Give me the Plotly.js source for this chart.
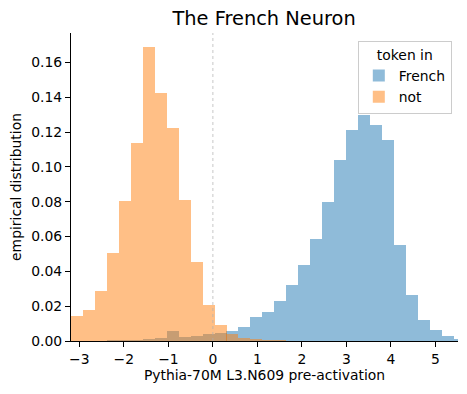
<!DOCTYPE html>
<html>
<head>
<meta charset="utf-8">
<script src="https://cdn.plot.ly/plotly-3.0.1.min.js"></script>
<style>html,body{margin:0;padding:0;background:#fff;}#chart{width:467px;height:394px;}</style>
</head>
<body>
<div id="chart"></div>
<script>
// Bin centers (pre-activation value), shared by both histograms
const binCenters = [-3.053, -2.784, -2.515, -2.247, -1.978, -1.709, -1.441, -1.172, -0.903, -0.635,
  -0.366, -0.097, 0.172, 0.440, 0.709, 0.978, 1.247, 1.515, 1.784, 2.053,
  2.321, 2.590, 2.859, 3.127, 3.396, 3.665, 3.934, 4.202, 4.471, 4.740,
  5.008, 5.277, 5.546];
const binWidth = 0.2687;

// token in French (blue)
const frenchValues = [0, 0, 0, 0.0006, 0.0006, 0.0006, 0.0012, 0.0015, 0.0059, 0.0023,
  0.0029, 0.0040, 0.0048, 0.0059, 0.0082, 0.0138, 0.0169, 0.0230, 0.0322, 0.0437,
  0.0586, 0.0799, 0.1040, 0.1213, 0.1299, 0.1241, 0.1155, 0.0552, 0.0264, 0.0121,
  0.0063, 0.0029, 0.0013];

// token not in French (orange)
const notValues = [0.0144, 0.0178, 0.0287, 0.0506, 0.0805, 0.1136, 0.1690, 0.1427, 0.1224, 0.0810,
  0.0454, 0.0207, 0.0092, 0.0040, 0.0015, 0.0011, 0.0005, 0.0004, 0, 0,
  0, 0, 0, 0, 0, 0, 0, 0, 0, 0,
  0, 0, 0];

const seriesNames = ["French", "not"];
const xTicks = [-3, -2, -1, 0, 1, 2, 3, 4, 5];
const yTicks = [0, 0.02, 0.04, 0.06, 0.08, 0.10, 0.12, 0.14, 0.16];

const font = "DejaVu Sans, sans-serif";

const traces = [
  {type: "bar", x: binCenters, y: frenchValues, width: binWidth, name: seriesNames[0],
   marker: {color: "rgba(31,119,180,0.5)", line: {width: 0}}},
  {type: "bar", x: binCenters, y: notValues, width: binWidth, name: seriesNames[1],
   marker: {color: "rgba(255,127,14,0.5)", line: {width: 0}}}
];

const layout = {
  width: 467, height: 394,
  margin: {l: 71, r: 9, t: 33, b: 53, pad: 0},
  paper_bgcolor: "#fff", plot_bgcolor: "#fff",
  barmode: "overlay", bargap: 0,
  font: {family: font, size: 13.9, color: "#000"},
  title: {text: "The French Neuron", font: {family: font, size: 19.4, color: "#000"},
          x: 0.5655, xanchor: "center", y: 0.953, yanchor: "middle"},
  xaxis: {range: [-3.187, 5.506], tickvals: xTicks, ticks: "outside", ticklen: 5, tickwidth: 1,
          tickcolor: "#000", showline: true, linecolor: "#000", linewidth: 1, showgrid: false,
          zeroline: false, tickfont: {size: 13.9},
          title: {text: "Pythia-70M L3.N609 pre-activation", font: {size: 13.9}, standoff: 4}},
  yaxis: {range: [0, 0.177], tickvals: yTicks, tickformat: ".2f", ticks: "outside", ticklen: 5,
          tickwidth: 1, tickcolor: "#000", showline: true, linecolor: "#000", linewidth: 1,
          showgrid: false, zeroline: false, tickfont: {size: 13.9},
          title: {text: "empirical distribution", font: {size: 13.9}, standoff: 6}},
  legend: {x: 0.984, xanchor: "right", y: 0.974, yanchor: "top", bgcolor: "rgba(255,255,255,0.8)",
           bordercolor: "#cccccc", borderwidth: 1, font: {size: 13.9},
           title: {text: "token in", side: "top center", font: {size: 13.9}}},
  shapes: [{type: "line", xref: "x", yref: "paper", x0: 0, x1: 0, y0: 0, y1: 1,
            line: {color: "#b0b0b0", width: 0.7, dash: "dot"}, layer: "above"}]
};

Plotly.newPlot("chart", traces, layout, {displayModeBar: false, staticPlot: true});
</script>
</body>
</html>
